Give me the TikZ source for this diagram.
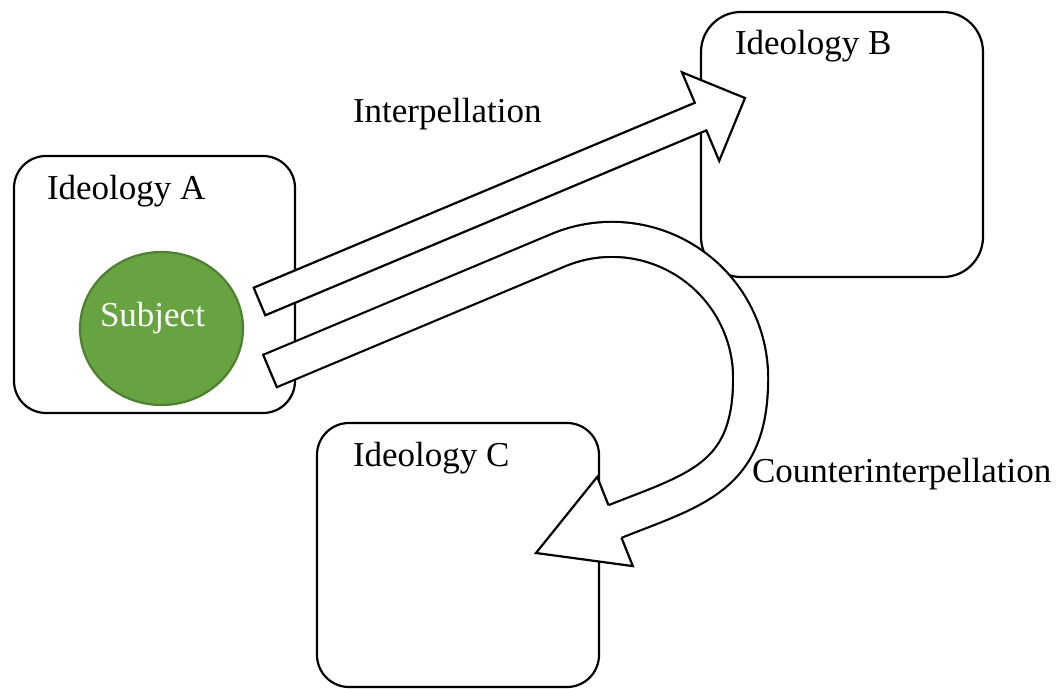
\documentclass[tikz,border=0pt]{standalone}
\usepackage{tikz}
\usepackage{xcolor}
\usepackage{fontspec}
\setmainfont{Liberation Serif}
\usetikzlibrary{shapes.geometric}
\definecolor{subjgreen}{HTML}{67A340}
\definecolor{subjrim}{HTML}{4F7F30}
\newcommand{\diagfont}{\fontsize{17.5}{21}\selectfont}

\begin{document}
\begin{tikzpicture}[x=0.5pt,y=0.5pt,line width=1.1pt]
\tikzstyle{every node}+=[inner sep=0pt, outer sep=0pt, font=\diagfont]
\tikzstyle{ideobox}=[draw=black, rounded corners=16pt]
\useasboundingbox (0,0) rectangle (1056,-689);
\node [ideobox, minimum width=140.5pt, minimum height=128.5pt] (ideoA) at (154.5,-284.5) {};
\node [anchor=base west] (labA) at (47,-200) {Ideology A};
\node [ideobox, rounded corners=20pt, minimum width=141pt, minimum height=132.5pt] (ideoB) at (842,-144.5) {};
\node [anchor=base west] (labB) at (735,-55) {Ideology B};
\node [ideobox, minimum width=141pt, minimum height=132pt] (ideoC) at (458,-555) {};
\node [anchor=base west] (labC) at (353,-467) {Ideology C};
\node [ellipse, draw=subjrim, fill=subjgreen, minimum width=81.5pt, minimum height=76.5pt] (subject) at (161.5,-328.5) {};
\node [anchor=base, text=white] (subjlab) at (152.5,-327) {Subject};
\draw [black, fill=white] (253.7,-287.7) -- (694.8,-102.8) -- (682.0,-72.3) -- (745,-98) -- (719.2,-160.9) -- (706.4,-130.4) -- (265.3,-315.3) -- cycle;
\node [anchor=base west] (intlab) at (353,-123) {Interpellation};
\draw [black, double=white, double distance=16.4pt] (270,-371) -- (558.4,-250.1) arc (112.7:0:138.7) .. controls (750.7,-478) and (695.8,-489.3) .. (612.2,-522.6);
\draw [black, line cap=rect] (263.2,-354.9) -- (276.8,-387.1);
\fill [white] (597.2,-476.9) -- (536,-553) -- (632.8,-566.1) -- cycle;
\draw [black] (608.5,-505.2) -- (597.2,-476.9) -- (536,-553) -- (632.8,-566.1) -- (621.5,-537.8);
\node [anchor=base west] (counterlab) at (752,-483) {Counterinterpellation};
\end{tikzpicture}
\end{document}
